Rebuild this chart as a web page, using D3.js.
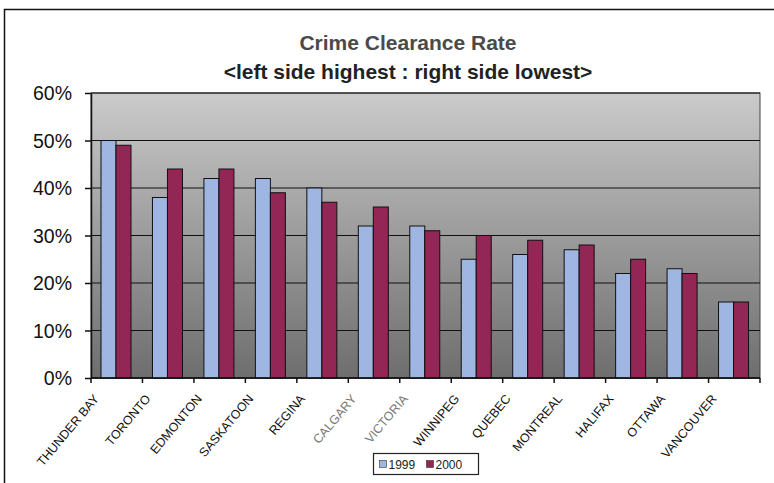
<!DOCTYPE html>
<html>
<head>
<meta charset="utf-8">
<script src="https://cdn.jsdelivr.net/npm/d3@7"></script>
<style>
  body { margin: 0; background: #fff; }
  svg { font-family: "Liberation Sans", Arial, sans-serif; }
</style>
</head>
<body>
<svg id="chart" width="774" height="483"></svg>
<script>
// data
const cities = ["THUNDER BAY", "TORONTO", "EDMONTON", "SASKATOON", "REGINA", "CALGARY",
  "VICTORIA", "WINNIPEG", "QUEBEC", "MONTREAL", "HALIFAX", "OTTAWA", "VANCOUVER"];
const rate1999 = [50, 38, 42, 42, 40, 32, 32, 25, 26, 27, 22, 23, 16];
const rate2000 = [49, 44, 44, 39, 37, 36, 31, 30, 29, 28, 25, 22, 16];
const years = ["1999", "2000"];
const yTicks = [0, 10, 20, 30, 40, 50, 60];

const width = 774, height = 483;
const margin = { top: 93, right: 14, bottom: 105, left: 91 };
const color = { "1999": "#9fb6e3", "2000": "#922654" };

const svg = d3.select("#chart");

// outer frame (left and top edges only show in the scan)
svg.append("path")
  .attr("d", "M4.5," + height + "V9.5H" + width)
  .attr("fill", "none")
  .attr("stroke", "#111")
  .attr("stroke-width", 1.5);

const title = svg.append("text")
  .attr("text-anchor", "middle")
  .attr("font-weight", "bold")
  .attr("font-size", 21)
  .attr("fill", "#4a4a4a");
title.append("tspan").attr("x", 408).attr("y", 50).text("Crime Clearance Rate");
title.append("tspan").attr("x", 408).attr("y", 79).attr("fill", "#222").text("<left side highest : right side lowest>");

const w = width - margin.left - margin.right;
const h = height - margin.top - margin.bottom;

const g = svg.append("g")
  .attr("transform", "translate(" + margin.left + "," + margin.top + ")");

const x = d3.scaleBand().domain(cities).range([0, w]);
const x1 = d3.scaleBand().domain(years).range([10, 40]);
const y = d3.scaleLinear().domain([0, 60]).range([h, 0]);

// grey gradient plot area
const grad = svg.append("defs").append("linearGradient")
  .attr("id", "bg").attr("x1", 0).attr("y1", 0).attr("x2", 0).attr("y2", 1);
grad.append("stop").attr("offset", "0%").attr("stop-color", "#cbcbcb");
grad.append("stop").attr("offset", "45%").attr("stop-color", "#a0a0a0");
grad.append("stop").attr("offset", "100%").attr("stop-color", "#6e6e6e");

g.append("rect")
  .attr("width", w).attr("height", h)
  .attr("fill", "url(#bg)")
  .attr("stroke", "#444")
  .attr("stroke-width", 1);

g.append("g")
  .selectAll("line")
  .data(yTicks)
  .enter().append("line")
  .attr("x1", 0).attr("x2", w)
  .attr("y1", d => y(d)).attr("y2", d => y(d))
  .attr("stroke", "#111")
  .attr("stroke-width", 1.2);

const groups = g.append("g")
  .selectAll("g")
  .data(cities)
  .enter().append("g")
  .attr("transform", d => "translate(" + x(d) + ",0)");

groups.selectAll("rect")
  .data((d, i) => [{ key: "1999", value: rate1999[i] }, { key: "2000", value: rate2000[i] }])
  .enter().append("rect")
  .attr("x", d => x1(d.key))
  .attr("y", d => y(d.value))
  .attr("width", x1.bandwidth())
  .attr("height", d => h - y(d.value))
  .attr("fill", d => color[d.key])
  .attr("stroke", "#111")
  .attr("stroke-width", 1);

// y axis
const yAxis = g.append("g")
  .call(d3.axisLeft(y).tickValues(yTicks).tickFormat(d => d + "%").tickSize(6).tickSizeOuter(0));
yAxis.select(".domain").attr("stroke", "#111").attr("stroke-width", 1.5);
yAxis.selectAll(".tick line").attr("stroke", "#111").attr("stroke-width", 1.5);
yAxis.selectAll("text")
  .attr("font-size", 19.5)
  .attr("fill", "#111")
  .attr("x", -19)
  .attr("dy", "0.35em");

// x axis: ticks at band boundaries
const xAxis = g.append("g").attr("transform", "translate(0," + h + ")");
xAxis.append("line")
  .attr("x1", 0).attr("x2", w)
  .attr("stroke", "#111").attr("stroke-width", 1.5);
xAxis.selectAll("line.tk")
  .data(d3.range(cities.length + 1))
  .enter().append("line")
  .attr("class", "tk")
  .attr("x1", i => i * x.step()).attr("x2", i => i * x.step())
  .attr("y1", 0).attr("y2", 5)
  .attr("stroke", "#111").attr("stroke-width", 1.5);

xAxis.selectAll("text")
  .data(cities)
  .enter().append("text")
  .attr("text-anchor", "end")
  .attr("font-size", 12.5)
  .attr("fill", d => d === "CALGARY" || d === "VICTORIA" ? "#777" : "#111")
  .attr("transform", d => "translate(" + (x(d) + x.bandwidth() / 2 - 17) + ",21) rotate(-50)")
  .text(d => d);

// legend
const legend = svg.append("g").attr("transform", "translate(373.5,453.5)");
legend.append("rect")
  .attr("width", 105).attr("height", 21)
  .attr("fill", "#fff")
  .attr("stroke", "#222").attr("stroke-width", 1.2);
const item = legend.selectAll("g")
  .data(years)
  .enter().append("g")
  .attr("transform", (d, i) => "translate(" + (6 + i * 47) + ",0)");
item.append("rect")
  .attr("y", 7).attr("width", 7).attr("height", 7)
  .attr("fill", d => color[d])
  .attr("stroke", "#333").attr("stroke-width", 0.6);
item.append("text")
  .attr("x", 9).attr("y", 15)
  .attr("font-size", 12)
  .attr("fill", "#222")
  .text(d => d);
</script>
</body>
</html>
